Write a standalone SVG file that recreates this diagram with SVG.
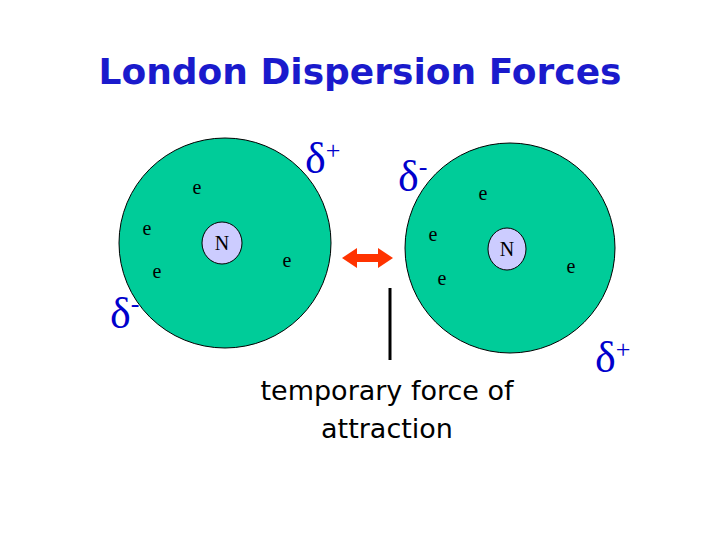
<svg xmlns="http://www.w3.org/2000/svg" width="720" height="540" viewBox="0 0 720 540">
<style>
.atom{fill:#00cc99;stroke:#000;stroke-width:1}
.nuc{fill:#ccccff;stroke:#000;stroke-width:1}
.e{font-family:"Liberation Serif",serif;font-size:20px;fill:#000;text-anchor:middle}
.d{font-family:"Liberation Serif",serif;font-size:44px;fill:#0000cc}
.sup{font-family:"Liberation Serif",serif;font-size:26px;fill:#0000cc}
.lbl{font-family:"DejaVu Sans",sans-serif;font-size:27px;fill:#000;text-anchor:middle}
</style>
<rect width="720" height="540" fill="#fff"/>
<text x="360" y="84" text-anchor="middle" font-family="DejaVu Sans, sans-serif" font-weight="bold" font-size="36" fill="#1a1acc">London Dispersion Forces</text>
<g id="atom1">
<ellipse class="atom" cx="225" cy="243" rx="106" ry="105"/>
<ellipse class="nuc" cx="222" cy="243" rx="20" ry="21"/>
<text class="e" x="222" y="250">N</text>
<text class="e" x="197" y="194">e</text>
<text class="e" x="147" y="235">e</text>
<text class="e" x="157" y="278">e</text>
<text class="e" x="287" y="267">e</text>
</g>
<g id="atom2">
<ellipse class="atom" cx="510" cy="248" rx="105" ry="105"/>
<ellipse class="nuc" cx="507" cy="249" rx="19" ry="21"/>
<text class="e" x="507" y="256">N</text>
<text class="e" x="483" y="200">e</text>
<text class="e" x="433" y="241">e</text>
<text class="e" x="442" y="285">e</text>
<text class="e" x="571" y="273">e</text>
</g>
<g id="charges">
<text class="d" x="305" y="173">δ<tspan class="sup" dy="-14">+</tspan></text>
<text class="d" x="398" y="191">δ<tspan class="sup" dy="-16">-</tspan></text>
<text class="d" x="110" y="328">δ<tspan class="sup" dy="-16">-</tspan></text>
<text class="d" x="595" y="372">δ<tspan class="sup" dy="-14">+</tspan></text>
</g>
<g id="connectors">
<polygon points="342,258 357,248 357,254 378,254 378,248 393,258 378,268 378,262 357,262 357,268" fill="#ff3300"/>
<line x1="390" y1="288" x2="390" y2="360" stroke="#000" stroke-width="3"/>
</g>
<g id="label">
<text class="lbl" x="387" y="400">temporary force of</text>
<text class="lbl" x="387" y="438">attraction</text>
</g>
</svg>
